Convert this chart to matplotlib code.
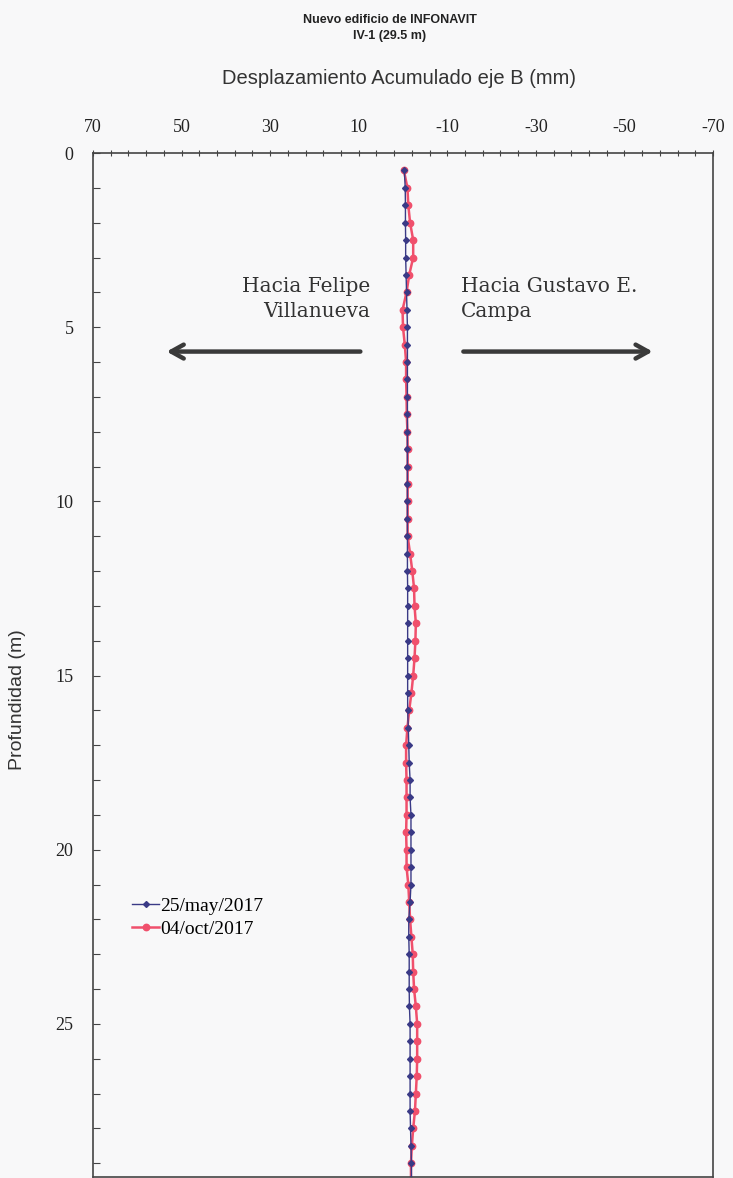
import numpy as np
import matplotlib.pyplot as plt
from matplotlib.ticker import MultipleLocator

plt.rcParams['axes.unicode_minus'] = False

# depth (m) of each reading
profundidad = np.arange(0.5, 30.0, 0.5)

# cumulative displacement, axis B (mm)
desp_may = [-0.3, -0.5, -0.55, -0.55, -0.6, -0.6, -0.7, -0.8, -0.9, -1.0,
            -1.0, -1.0, -1.0, -1.0, -1.0, -1.0, -1.0, -1.0, -1.0, -1.0,
            -1.0, -1.0, -1.0, -1.0, -1.05, -1.05, -1.05, -1.05, -1.05, -1.05,
            -1.05, -1.05, -1.2, -1.3, -1.4, -1.6, -1.6, -1.8, -1.8, -1.8,
            -1.8, -1.8, -1.6, -1.3, -1.3, -1.4, -1.4, -1.4, -1.45, -1.6,
            -1.6, -1.6, -1.6, -1.6, -1.6, -1.7, -1.8, -1.9, -1.9]
desp_oct = [-0.2, -1.0, -1.2, -1.6, -2.3, -2.3, -1.4, -0.8, 0.1, 0.0,
            -0.4, -0.7, -0.7, -0.8, -0.85, -1.0, -1.05, -1.05, -1.05, -1.05,
            -1.05, -1.05, -1.6, -2.1, -2.5, -2.6, -2.9, -2.8, -2.6, -2.3,
            -1.9, -1.4, -1.0, -0.7, -0.7, -0.8, -0.8, -0.8, -0.7, -0.8,
            -0.8, -1.2, -1.4, -1.6, -1.9, -2.2, -2.3, -2.5, -2.9, -3.2,
            -3.2, -3.2, -3.1, -2.9, -2.7, -2.3, -2.0, -1.8, -1.8]

fechas = ['25/may/2017', '04/oct/2017']
x_ticks = [70, 50, 30, 10, -10, -30, -50, -70]

bg = '#f8f8f9'
fig = plt.figure(figsize=(7.33, 11.78), dpi=100, facecolor=bg)
ax = fig.add_axes([93 / 733, 1.5 / 1178, 620 / 733, 1023.5 / 1178], facecolor=bg)

ax.plot(desp_may, profundidad, color='#3a3a86', lw=1.0, marker='D', ms=3,
        label=fechas[0], zorder=3)
ax.plot(desp_oct, profundidad, color='#f0506c', lw=1.8, marker='o', ms=4.6,
        label=fechas[1], zorder=2)

ax.set_xlim(70, -70)
ax.set_ylim(29.38, 0)
ax.xaxis.tick_top()
ax.set_xticks(x_ticks)
ax.set_xticks(np.arange(70, -71, -4), minor=True)
ax.yaxis.set_major_locator(MultipleLocator(5))
ax.yaxis.set_minor_locator(MultipleLocator(1))
ax.tick_params(axis='x', which='both', direction='inout', length=5, width=0.8,
               colors='#444444', labelcolor='#222222', pad=10)
ax.tick_params(axis='y', which='both', direction='in', length=5, width=0.8,
               colors='#444444', labelcolor='#222222', pad=14)
for lab in ax.get_xticklabels() + ax.get_yticklabels():
    lab.set_family('Liberation Serif')
    lab.set_fontsize(13)
for s in ax.spines.values():
    s.set_color('#444444')
    s.set_linewidth(1.2)

# direction arrows and notes
ax.annotate('', xy=(54, 5.7), xytext=(9, 5.7),
            arrowprops=dict(arrowstyle='->,head_length=0.9,head_width=0.5',
                            lw=3.2, color='#3a3a3a'))
ax.annotate('', xy=(-57, 5.7), xytext=(-13, 5.7),
            arrowprops=dict(arrowstyle='->,head_length=0.9,head_width=0.5',
                            lw=3.2, color='#3a3a3a'))
ax.text(7.5, 4.2, 'Hacia Felipe\nVillanueva', ha='right', va='center',
        family='DejaVu Serif', fontsize=14.5, color='#333333', linespacing=1.4)
ax.text(-13, 4.2, 'Hacia Gustavo E.\nCampa', ha='left', va='center',
        family='DejaVu Serif', fontsize=14.5, color='#333333', linespacing=1.4)

leg = ax.legend(loc='upper left', bbox_to_anchor=(0.035, 0.29), frameon=False,
                prop={'family': 'Liberation Serif', 'size': 14},
                handlelength=1.4, handletextpad=0.05, labelspacing=0.3)

fig.text(390 / 733, 1 - 20 / 1178, 'Nuevo edificio de INFONAVIT', ha='center',
         va='center', family='Liberation Sans', fontsize=9, weight='bold',
         color='#222222')
fig.text(390 / 733, 1 - 36 / 1178, 'IV-1 (29.5 m)', ha='center', va='center',
         family='Liberation Sans', fontsize=9, weight='bold', color='#222222')
fig.text(399 / 733, 1 - 78 / 1178, 'Desplazamiento Acumulado eje B (mm)',
         ha='center', va='center', family='Liberation Sans', fontsize=14.5,
         color='#333333')
fig.text(18 / 733, 1 - 700 / 1178, 'Profundidad (m)', ha='center', va='center',
         rotation=90, family='Liberation Sans', fontsize=14, color='#333333')

fig.savefig('out.png', dpi=100, facecolor=bg)
